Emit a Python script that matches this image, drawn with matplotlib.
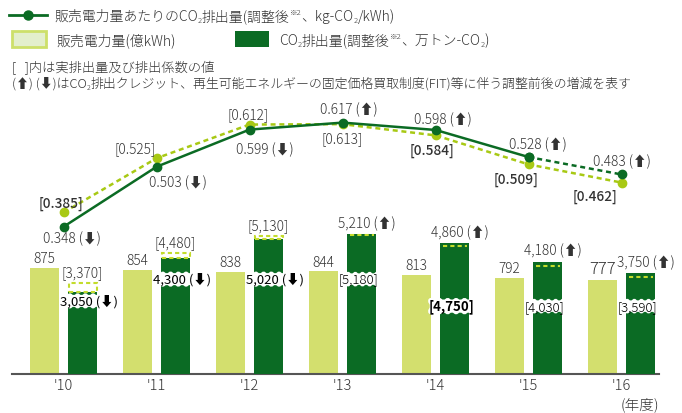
import matplotlib
matplotlib.use("Agg")
import matplotlib.pyplot as plt
from matplotlib.transforms import IdentityTransform

# data
years = ["'10", "'11", "'12", "'13", "'14", "'15", "'16"]
sales = [875, 854, 838, 844, 813, 792, 777]                      # 億kWh
co2_adjusted = [3050, 4300, 5020, 5210, 4860, 4180, 3750]        # 万トン-CO2
co2_actual = [3370, 4480, 5130, 5180, 4750, 4030, 3590]
coef_adjusted = [0.348, 0.503, 0.599, 0.617, 0.598, 0.528, 0.483]  # kg-CO2/kWh
coef_actual = [0.385, 0.525, 0.612, 0.613, 0.584, 0.509, 0.462]

FAM = ["Noto Sans CJK JP", "DejaVu Sans"]
plt.rcParams["font.family"] = FAM
plt.rcParams["font.weight"] = "light"

DARK = "#0b6b24"
LIGHT_LINE = "#a8c914"
LIGHT_BAR = "#d3df6e"
DASH = "#c3dc2c"
TXT = "#333333"

W, H = 682, 414
fig = plt.figure(figsize=(W / 100, H / 100), dpi=100)
ax = fig.add_axes([12 / W, 39 / H, 647 / W, 375 / H])
axd = ax.twinx()
axl = ax.twinx()

x = list(range(len(years)))
bw = 0.317
off = 0.205

# light bars (sales)
ax.bar([i - off for i in x], sales, width=bw, color=LIGHT_BAR)
ax.set_ylim(0, 375 / 0.1215)
ax.set_xlim(-0.555, 6.402)
for i, v in enumerate(sales):
    big = v == sales[-1]
    ax.annotate(f"{v:,}", (i - off, v), xytext=(0, 2), textcoords="offset points",
                ha="center", va="bottom", fontsize=12 if big else 9.8, color=TXT)

# dark bars (CO2)
axd.set_ylim(0, 375 / 0.0269)
axd.bar([i + off for i in x], co2_adjusted, width=bw, color=DARK)
inner_y = [0.195, 0.253, 0.253, 0.253, 0.181, 0.181, 0.181]
tooth = dict(boxstyle="roundtooth,pad=0.15,tooth_size=0.3", fc="white", ec="none")
for i, (adj, act) in enumerate(zip(co2_adjusted, co2_actual)):
    xc = i + off
    if act > adj:
        axd.bar(xc, act - adj, bottom=adj, width=bw * 0.96, color="white",
                edgecolor=DASH, linewidth=1.5, linestyle=(0, (2, 1.5)))
        axd.annotate(f"[{act:,}]", (xc, act), xytext=(0, 3), textcoords="offset points",
                     ha="center", va="bottom", fontsize=9.8, color=TXT)
        axd.text(xc + 0.07, inner_y[i], f"{adj:,} (⬇)", transform=axd.get_xaxis_transform(),
                 ha="center", va="center", fontsize=9.5, color="black",
                 fontweight="normal", bbox=tooth)
    else:
        axd.hlines(act, xc - bw / 2 + 0.03, xc + bw / 2 - 0.03, colors=DASH,
                   linewidth=1.5, linestyles=(0, (2, 1.5)))
        axd.annotate(f"{adj:,} (⬆)", (xc, adj), xytext=(4, 3), textcoords="offset points",
                     ha="center", va="bottom", fontsize=9.8, color=TXT)
        axd.text(xc - 0.03, inner_y[i], f"[{act:,}]", transform=axd.get_xaxis_transform(),
                 ha="center", va="center", fontsize=9.5, color="black",
                 fontweight="bold" if i == 4 else "light", bbox=tooth)

# emission factor lines
axl.set_ylim(-0.0326, 0.9364)
axl.plot(x, coef_actual, color=LIGHT_LINE, lw=1.8, ls=(0, (2, 1.5)),
         marker="o", ms=6, zorder=3)
axl.plot(x[:6], coef_adjusted[:6], color=DARK, lw=1.8, marker="o", ms=6, zorder=4)
axl.plot(x[5:], coef_adjusted[5:], color=DARK, lw=1.8, ls=(0, (2, 1.5)),
         marker="o", ms=6, zorder=4)

adj_off = [(8, -11), (21, -15), (15, -19), (6, 14), (7, 11), (9, 13), (0, 14)]
act_off = [(-3, 10), (-21, 10), (-1, 10), (0, -14), (-4, -14), (-13, -14), (-27, -13)]
bold_act = [0, 4, 5, 6]
for i in x:
    arrow = "⬇" if coef_adjusted[i] < coef_actual[i] else "⬆"
    axl.annotate(f"{coef_adjusted[i]:.3f} ({arrow})", (i, coef_adjusted[i]),
                 xytext=adj_off[i], textcoords="offset pixels",
                 ha="center", va="center", fontsize=9.8, color=TXT)
    axl.annotate(f"[{coef_actual[i]:.3f}]", (i, coef_actual[i]),
                 xytext=act_off[i], textcoords="offset pixels",
                 ha="center", va="center", fontsize=9.8, color=TXT,
                 fontweight="medium" if i in bold_act else "light")

for a in (ax, axd, axl):
    for s in ("top", "left", "right", "bottom"):
        a.spines[s].set_visible(False)
    a.set_yticks([])
ax.spines["bottom"].set_visible(True)
ax.spines["bottom"].set_color("#555555")
ax.spines["bottom"].set_linewidth(1.5)
ax.set_xticks(x)
ax.set_xticklabels(years, fontsize=10.5, color=TXT)
ax.tick_params(axis="x", length=0, pad=3)


# legend / notes (pixel positions, y from top)
def rich(xp, base, pieces, size=10):
    r = fig.canvas.get_renderer()
    for s, kind in pieces:
        fs, dy = size, 0
        if kind == "sub":
            fs, dy = size * 0.55, -2
        elif kind == "sup":
            fs, dy = size * 0.55, 6
        t = fig.text(xp, H - base + dy, s, transform=IdentityTransform(),
                     fontsize=fs, color=TXT, va="baseline", ha="left")
        xp += t.get_window_extent(r).width


fig.lines.append(plt.Line2D([9 / W, 28 / W, 47 / W], [1 - 16 / H] * 3, color=DARK,
                            lw=2, marker="o", ms=6.5, markevery=[1],
                            transform=fig.transFigure))
rich(54, 21, [("販売電力量あたりのCO", ""), ("2", "sub"), ("排出量(調整後", ""),
              ("※2", "sup"), ("、kg-CO", ""), ("2", "sub"), ("/kWh)", "")])

fig.patches.append(plt.Rectangle((12 / W, 1 - 48 / H), 34 / W, 16 / H, fc="#e3efcc",
                                 ec="#cde06a", lw=2, transform=fig.transFigure))
rich(56, 45, [("販売電力量(億kWh)", "")])
fig.patches.append(plt.Rectangle((235 / W, 1 - 48 / H), 34 / W, 16 / H, fc=DARK,
                                 ec="none", transform=fig.transFigure))
rich(279, 45, [("CO", ""), ("2", "sub"), ("排出量(調整後", ""), ("※2", "sup"),
               ("、万トン-CO", ""), ("2", "sub"), (")", "")])

rich(12, 72, [("[   ]内は実排出量及び排出係数の値", "")], size=9.5)
rich(12, 88, [("(⬆) (⬇)はCO", ""), ("2", "sub"),
              ("排出クレジット、再生可能エネルギーの固定価格買取制度(FIT)等に伴う調整前後の増減を表す", "")],
     size=9.3)

fig.text(640 / W, 1 - 405 / H, "(年度)", ha="center", va="center", fontsize=10.5,
         color=TXT)

plt.savefig("out.png", dpi=100)
